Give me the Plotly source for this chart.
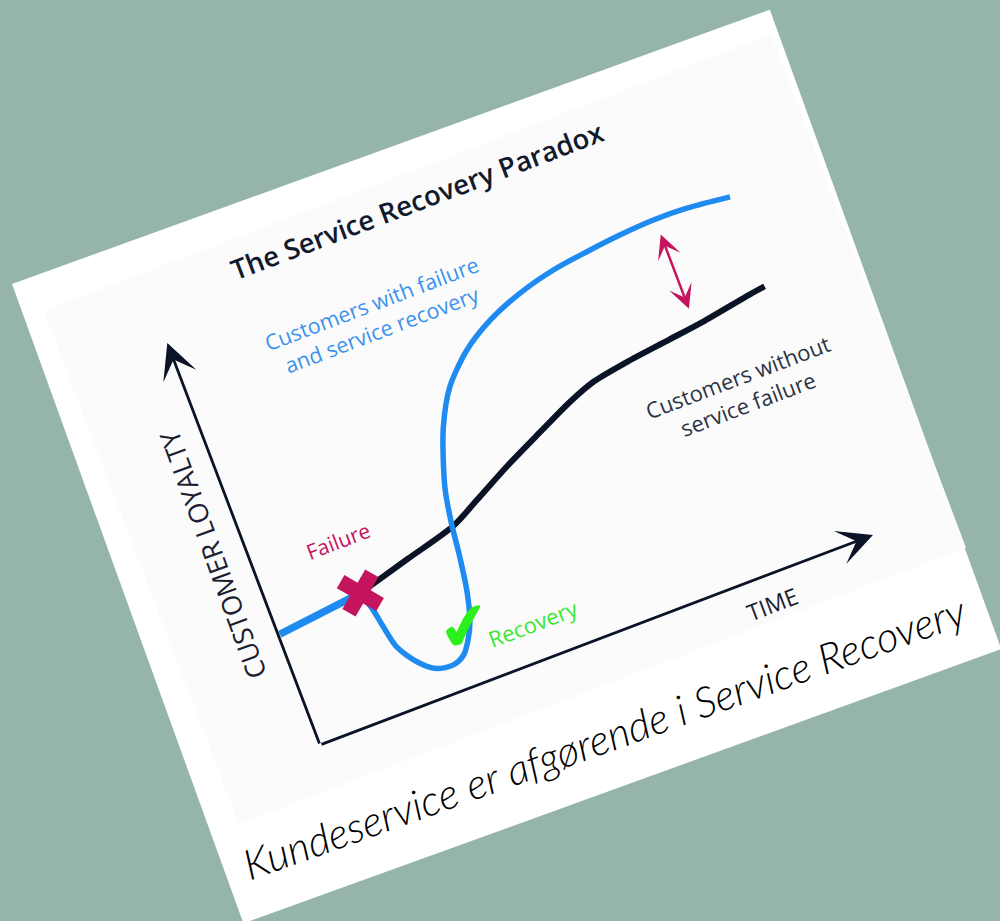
import numpy as np
import plotly.graph_objects as go

# ---------------- data (chart units: time 0-100, loyalty 0-100) ----------------
shared_time = [0.3, 15.5]
shared_loyalty = [27.4, 29.7]

no_failure_time = [15.5, 25.0, 34.2, 39.5, 46.2, 53.5, 60.2, 65.1, 71.4, 79.6, 85.9, 95.1, 97.8]
no_failure_loyalty = [29.7, 33.2, 36.6, 40.3, 45.1, 49.8, 54.0, 56.4, 57.9, 59.3, 60.4, 62.5, 63.0]

recovery_time = [15.5, 16.5, 17.1, 18.0, 20.3, 23.0, 25.9, 28.1, 29.7, 31.2, 32.5, 33.4,
                 34.1, 35.1, 36.4, 38.6, 42.0, 46.9, 52.4, 58.7, 65.4, 71.8, 78.0, 84.2, 90.2, 97.7]
recovery_loyalty = [29.7, 25.0, 20.5, 15.0, 10.1, 7.0, 6.4, 7.7, 10.6, 14.8, 21.6, 29.5,
                    37.5, 45.1, 51.0, 59.0, 67.1, 73.7, 78.3, 81.7, 84.0, 85.2, 86.1, 86.6, 86.4, 85.3]

failure_point = (15.5, 29.7)
recovery_point = (29.8, 13.0)
gap_time = 84.5
gap_loyalty = [83.2, 64.4]

title = "The Service Recovery Paradox"
label_recovery = "Customers with failure<br>and service recovery"
label_no_failure = "Customers without<br>service failure"
axis_x_label = "TIME"
axis_y_label = "CUSTOMER LOYALTY"
caption = "Kundeservice er afgørende i Service Recovery"

# ---------------- geometry of the tilted picture ----------------
W, H = 1000, 921
BG = "#95b5a9"
PHI = np.deg2rad(20.8)          # tilt of the chart image
ORIGIN = (320.0, 745.0)         # axes corner on page
LEN_X, LEN_Y = 591.5, 430.0     # axis lengths in px


def to_page(t, L):
    t = np.asarray(t, float)
    L = np.asarray(L, float)
    a = t / 100.0 * LEN_X
    b = L / 100.0 * LEN_Y
    x = ORIGIN[0] + a * np.cos(PHI) - b * np.sin(PHI)
    y = ORIGIN[1] - a * np.sin(PHI) - b * np.cos(PHI)
    return x, y


def frame_px(a, b):
    a = np.asarray(a, float)
    b = np.asarray(b, float)
    return to_page(a / LEN_X * 100, b / LEN_Y * 100)


fig = go.Figure()

# card
th = np.deg2rad(19.9)
TL = np.array([12.0, 284.0])
ux = np.array([np.cos(th), -np.sin(th)])
vy = np.array([np.sin(th), np.cos(th)])
CW, CH = 806, 680
corners = [TL, TL + CW * ux, TL + CW * ux + CH * vy, TL + CH * vy, TL]
fig.add_trace(go.Scatter(x=[c[0] for c in corners], y=[c[1] for c in corners],
                         mode="lines", fill="toself", fillcolor="#ffffff",
                         line=dict(width=0), hoverinfo="skip", showlegend=False))

# inner image background
ia = [-104, 674, 674, -104, -104]
ib = [504, 504, -45, -45, 504]
ix, iy = frame_px(ia, ib)
fig.add_trace(go.Scatter(x=ix, y=iy, mode="lines", fill="toself", fillcolor="#fbfbfb",
                         line=dict(width=0), hoverinfo="skip", showlegend=False))

BLACK = "#0b1426"
BLUE = "#1f8bf0"
CRIMSON = "#c4145e"
GREEN = "#2cf01c"

# curves
x, y = to_page(no_failure_time, no_failure_loyalty)
fig.add_trace(go.Scatter(x=x, y=y, mode="lines", line=dict(color=BLACK, width=6, shape="spline", smoothing=0.8),
                         hoverinfo="skip", showlegend=False))
x, y = to_page(recovery_time, recovery_loyalty)
fig.add_trace(go.Scatter(x=x, y=y, mode="lines", line=dict(color=BLUE, width=5.5, shape="spline", smoothing=0.8),
                         hoverinfo="skip", showlegend=False))
x, y = to_page(shared_time, shared_loyalty)
fig.add_trace(go.Scatter(x=x, y=y, mode="lines", line=dict(color=BLUE, width=7.5),
                         hoverinfo="skip", showlegend=False))

# failure cross
fx, fy = to_page([failure_point[0]], [failure_point[1]])
fig.add_trace(go.Scatter(x=fx, y=fy, mode="markers",
                         marker=dict(symbol="x", size=38, color=CRIMSON, angle=-15, line=dict(width=0)),
                         hoverinfo="skip", showlegend=False))

annotations = []

# axes arrows
ox, oy = to_page([0], [0])
for tt, ll in [(100, 0), (0, 100)]:
    px_, py_ = to_page([tt], [ll])
    annotations.append(dict(x=float(px_[0]), y=float(py_[0]), ax=float(ox[0]), ay=float(oy[0]),
                            xref="x", yref="y", axref="x", ayref="y", text="", showarrow=True,
                            arrowhead=3, arrowsize=2.1, arrowwidth=2.8, arrowcolor=BLACK))

# gap double arrow
g1x, g1y = to_page([gap_time], [gap_loyalty[0]])
g2x, g2y = to_page([gap_time], [gap_loyalty[1]])
annotations.append(dict(x=float(g2x[0]), y=float(g2y[0]), ax=float(g1x[0]), ay=float(g1y[0]),
                        xref="x", yref="y", axref="x", ayref="y", text="", showarrow=True,
                        arrowhead=3, arrowside="end+start", arrowsize=1.6, arrowwidth=2.5,
                        arrowcolor=CRIMSON))

# recovery check
rx, ry = to_page([recovery_point[0]], [recovery_point[1]])
annotations.append(dict(x=float(rx[0]), y=float(ry[0]) - 3, text="✔", showarrow=False, textangle=-12,
                        font=dict(family="DejaVu Sans", size=64, color=GREEN),
                        xanchor="center", yanchor="middle"))


def label(txt, x, y, size, color, angle=-20.8, family="Open Sans", weight=400, style="normal"):
    annotations.append(dict(x=x, y=y, xref="x", yref="y", text=txt, showarrow=False,
                            textangle=angle, xanchor="center", yanchor="middle", align="center",
                            font=dict(family=family, size=size, color=color, weight=weight, style=style)))


label(title, 417, 200, 27.5, "#111a2c", weight=600)
label(label_recovery, 376, 316, 21.5, "#3a92ee")
label(label_no_failure, 742, 390, 22, "#2c3344")
label("Failure", 338, 541, 21, CRIMSON)
label("Recovery", 533, 623, 22, "#3ae832")
label(axis_x_label, 772, 604, 23, "#1a2030")
label(axis_y_label, 212, 555, 27, "#1a2030", angle=-110)
label(caption, 604, 737, 42, "#000000", angle=-19.7, family="Lato", weight=300, style="italic")

fig.update_layout(
    width=W, height=H, autosize=False,
    margin=dict(l=0, r=0, t=0, b=0, pad=0),
    paper_bgcolor=BG, plot_bgcolor=BG,
    xaxis=dict(range=[0, W], visible=False, fixedrange=True),
    yaxis=dict(range=[H, 0], visible=False, fixedrange=True),
    annotations=annotations,
    showlegend=False,
)

fig.write_html("out.html", config={"displayModeBar": False})
